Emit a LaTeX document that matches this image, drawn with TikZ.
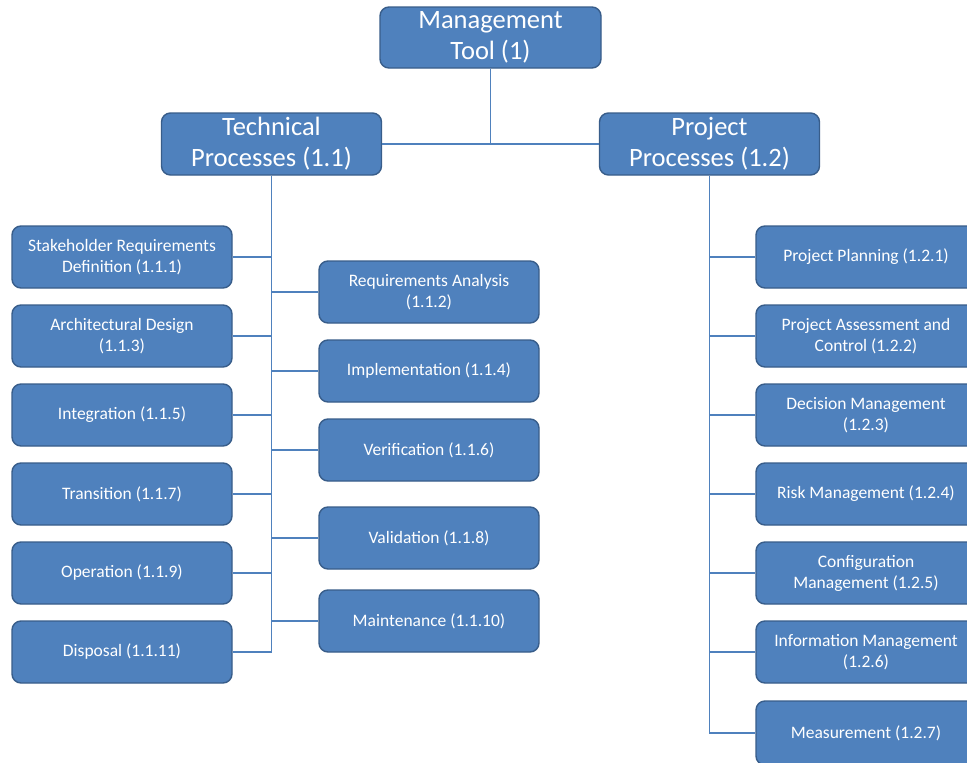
\documentclass[tikz,border=0pt]{standalone}
\usepackage{fontspec}
\setmainfont{Carlito}
\definecolor{boxfill}{HTML}{4F81BD}
\definecolor{boxline}{HTML}{385D8A}
\definecolor{wire}{HTML}{4F81BD}
\begin{document}
\begin{tikzpicture}[x=1pt,y=-1pt,
  box/.style={rounded corners=9pt, draw=boxline, fill=boxfill, line width=1.4pt,
    text=white, minimum width=220pt, minimum height=62pt, align=center,
    inner sep=2pt, font=\fontsize{17.5}{21}\selectfont},
  headbox/.style={box, font=\fontsize{26.5}{31}\selectfont},
  wireline/.style={draw=wire, line width=1.2pt}]
\useasboundingbox (0,0) rectangle (967,763);
\clip (0,0) rectangle (967,763);
\fill[white] (0,0) rectangle (967,763);

% top level
\node[headbox, minimum width=221pt, minimum height=61pt] (mgmt) at (490.5,37.5) {Management\\Tool (1)};
\node[headbox] (tech) at (271.5,144) {Technical\\Processes (1.1)};
\node[headbox] (proj) at (709.5,144) {Project\\Processes (1.2)};

% technical processes, outer column
\node[box] (srd)  at (122,257) {Stakeholder Requirements\\Definition (1.1.1)};
\node[box] (arch) at (122,336) {Architectural Design\\(1.1.3)};
\node[box] (intg) at (122,415) {Integration (1.1.5)};
\node[box] (tran) at (122,494) {Transition (1.1.7)};
\node[box] (oper) at (122,573) {Operation (1.1.9)};
\node[box] (disp) at (122,652) {Disposal (1.1.11)};

% technical processes, inner column
\node[box] (reqa) at (429,292) {Requirements Analysis\\(1.1.2)};
\node[box] (impl) at (429,371) {Implementation (1.1.4)};
\node[box] (veri) at (429,450) {Verification (1.1.6)};
\node[box] (vali) at (429,538) {Validation (1.1.8)};
\node[box] (main) at (429,621) {Maintenance (1.1.10)};

% project processes
\node[box] (ppl) at (866,257) {Project Planning (1.2.1)};
\node[box] (pac) at (866,336) {Project Assessment and\\Control (1.2.2)};
\node[box] (dec) at (866,415) {Decision Management\\(1.2.3)};
\node[box] (risk) at (866,494) {Risk Management (1.2.4)};
\node[box] (conf) at (866,573) {Configuration\\Management (1.2.5)};
\node[box] (info) at (866,652) {Information Management\\(1.2.6)};
\node[box, minimum height=64pt] (meas) at (866,733) {Measurement (1.2.7)};

% connectors
\draw[wireline] (mgmt.south) |- (tech.east);
\draw[wireline] (tech.east) -- (proj.west);

\draw[wireline] (tech.south) |- (disp.east);
\foreach \b in {srd,arch,intg,tran,oper}
  \draw[wireline] (\b.east) -- (\b.east -| tech.south);
\foreach \b in {reqa,impl,veri,vali,main}
  \draw[wireline] (\b.west) -- (\b.west -| tech.south);

\draw[wireline] (proj.south) |- (meas.west);
\foreach \b in {ppl,pac,dec,risk,conf,info}
  \draw[wireline] (\b.west) -- (\b.west -| proj.south);
\end{tikzpicture}
\end{document}
